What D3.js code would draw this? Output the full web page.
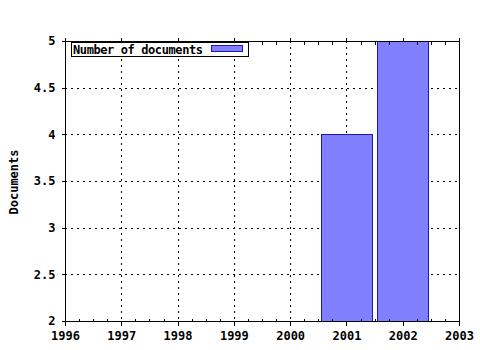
<!DOCTYPE html>
<html><head><meta charset="utf-8">
<script src="https://cdn.jsdelivr.net/npm/d3@7"></script>
<style>body{margin:0;background:#fff}svg{display:block}</style>
</head><body>
<script>
const years = [2001, 2002];
const docs = [4, 5];
const xTicks = [1996, 1997, 1998, 1999, 2000, 2001, 2002, 2003];
const yTicks = [2, 2.5, 3, 3.5, 4, 4.5, 5];
const seriesName = "Number of documents";
const yLabel = "Documents";

(function () {
const W = 480, H = 350;
const L = 65, R = 459, T = 41, B = 321;
const font = "'DejaVu Sans Mono', monospace";
const fs = "12px";
const svg = d3.select("body").append("svg").attr("width", W).attr("height", H);
const x = d3.scaleLinear().domain([1996, 2003]).range([L, R]);
const y = d3.scaleLinear().domain([2, 5]).range([B, T]);

// grid
const g = svg.append("g").attr("shape-rendering", "crispEdges");
g.selectAll(".gx").data(xTicks.slice(1, -1)).join("line")
  .attr("x1", d => Math.round(x(d)) + 0.5).attr("x2", d => Math.round(x(d)) + 0.5)
  .attr("y1", T).attr("y2", B).attr("stroke", "#000").attr("stroke-dasharray", "2,4");
g.selectAll(".gy").data(yTicks.slice(1, -1)).join("line")
  .attr("y1", d => Math.round(y(d)) + 0.5).attr("y2", d => Math.round(y(d)) + 0.5)
  .attr("x1", L).attr("x2", R).attr("stroke", "#000").attr("stroke-dasharray", "2,4");

// bars
const bw = x(1996.9) - x(1996);
svg.append("g").selectAll("rect").data(years).join("rect")
  .attr("x", (d) => Math.round(x(d) - bw / 2) + 0.5)
  .attr("y", (d, i) => Math.round(y(docs[i])) + 0.5)
  .attr("width", Math.round(bw))
  .attr("height", (d, i) => Math.round(y(2)) - Math.round(y(docs[i])))
  .attr("fill", "#8080ff").attr("stroke", "#1a1ab0").attr("stroke-width", 1)
  .attr("shape-rendering", "crispEdges");

// axes
const minor = d3.range(1996, 2003.001, 0.25).filter(v => Math.abs(v - Math.round(v)) > 1e-6);
const axB = svg.append("g").attr("transform", `translate(0,${B + 0.5})`)
  .call(d3.axisBottom(x).tickValues(xTicks).tickFormat(d3.format("d")).tickSize(4).tickPadding(6));
const axT = svg.append("g").attr("transform", `translate(0,${T + 0.5})`)
  .call(d3.axisTop(x).tickValues(xTicks).tickFormat("").tickSize(4));
const axBm = svg.append("g").attr("transform", `translate(0,${B + 0.5})`)
  .call(d3.axisTop(x).tickValues(minor).tickFormat("").tickSize(3));
const axTm = svg.append("g").attr("transform", `translate(0,${T + 0.5})`)
  .call(d3.axisBottom(x).tickValues(minor).tickFormat("").tickSize(3));
const axL = svg.append("g").attr("transform", `translate(${L + 0.5},0)`)
  .call(d3.axisLeft(y).tickValues(yTicks).tickFormat(d => String(d)).tickSize(4).tickPadding(6));
const axes = [axB, axT, axBm, axTm, axL];
axes.forEach(a => {
  a.attr("shape-rendering", "crispEdges");
  a.select(".domain").remove();
  a.selectAll("line").attr("stroke", "#000");
  a.selectAll("text").attr("font-family", font).attr("font-weight", "bold").attr("font-size", fs).attr("fill", "#000");
});
svg.append("rect").attr("x", L + 0.5).attr("y", T + 0.5).attr("width", R - L).attr("height", B - T)
  .attr("fill", "none").attr("stroke", "#000").attr("shape-rendering", "crispEdges");

// y label
svg.append("text").attr("transform", `translate(18,${(T + B) / 2 + 1}) rotate(-90)`)
  .attr("text-anchor", "middle").attr("font-family", font).attr("font-weight", "bold")
  .attr("font-size", fs).text(yLabel);

// legend
const lg = svg.append("g").attr("shape-rendering", "crispEdges");
lg.append("rect").attr("x", 71.5).attr("y", 42.5).attr("width", 177).attr("height", 14)
  .attr("fill", "#fff").attr("stroke", "#000");
lg.append("text").attr("x", 73).attr("y", 54).attr("font-family", font)
  .attr("font-size", fs).attr("font-weight", "bold").attr("textLength", 130).text(seriesName);
lg.append("rect").attr("x", 211.5).attr("y", 45.5).attr("width", 31).attr("height", 6)
  .attr("fill", "#8080ff").attr("stroke", "#1a1ab0");
})();
</script>
</body></html>
